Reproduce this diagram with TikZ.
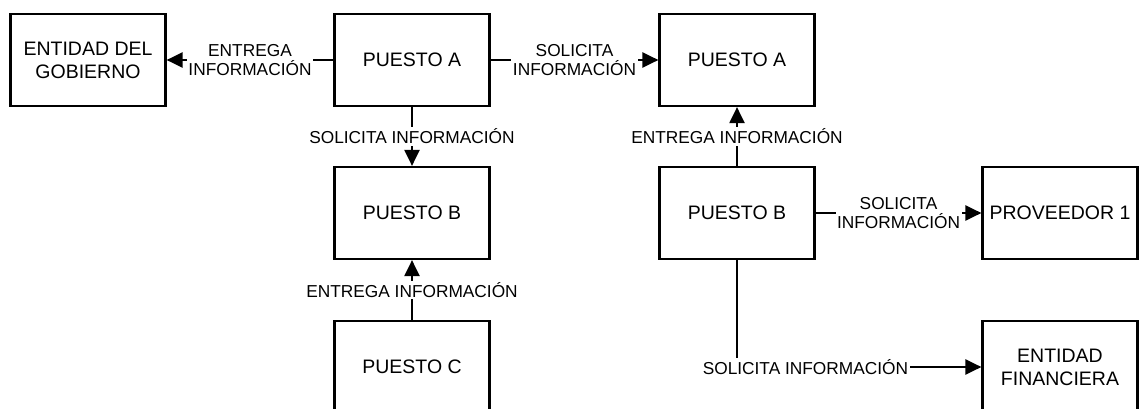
\documentclass[tikz,border=0pt]{standalone}
\usepackage{fontspec}
\setmainfont{Liberation Sans}
\usetikzlibrary{arrows.meta}

\begin{document}
\begin{tikzpicture}[x=1pt,y=-1pt,
    caja/.style={draw,line width=2.2pt,minimum width=155pt,minimum height=92pt,
        inner sep=0pt,align=center,font=\fontsize{19.5}{23}\selectfont},
    flecha/.style={line width=2.2pt,-{Triangle[length=16pt,width=15pt]}},
    rotulo/.style={fill=white,inner sep=1.5pt,align=center,
        font=\fontsize{17.3}{19}\selectfont}]
\useasboundingbox (0,0) rectangle (1139,409);

\node[caja] (gob) at (88,60) {ENTIDAD DEL\\GOBIERNO};
\node[caja] (pa) at (412,60) {PUESTO A};
\node[caja] (pb) at (412,213) {PUESTO B};
\node[caja] (pc) at (412,367) {PUESTO C};
\node[caja] (qa) at (737,60) {PUESTO A};
\node[caja] (qb) at (737,213) {PUESTO B};
\node[caja] (prov) at (1060,213) {PROVEEDOR 1};
\node[caja] (fin) at (1060,367) {ENTIDAD\\FINANCIERA};

\draw[flecha] (pa) -- node[rotulo] {ENTREGA\\INFORMACIÓN} (gob);
\draw[flecha] (pa) -- node[rotulo] {SOLICITA\\INFORMACIÓN} (qa);
\draw[flecha] (pa) -- node[rotulo] {SOLICITA INFORMACIÓN} (pb);
\draw[flecha] (pc) -- node[rotulo] {ENTREGA INFORMACIÓN} (pb);
\draw[flecha] (qb) -- node[rotulo] {ENTREGA INFORMACIÓN} (qa);
\draw[flecha] (qb) -- node[rotulo] {SOLICITA\\INFORMACIÓN} (prov);
\draw[flecha] (qb) |- node[rotulo,pos=.64] {SOLICITA INFORMACIÓN} (fin);

\end{tikzpicture}
\end{document}
